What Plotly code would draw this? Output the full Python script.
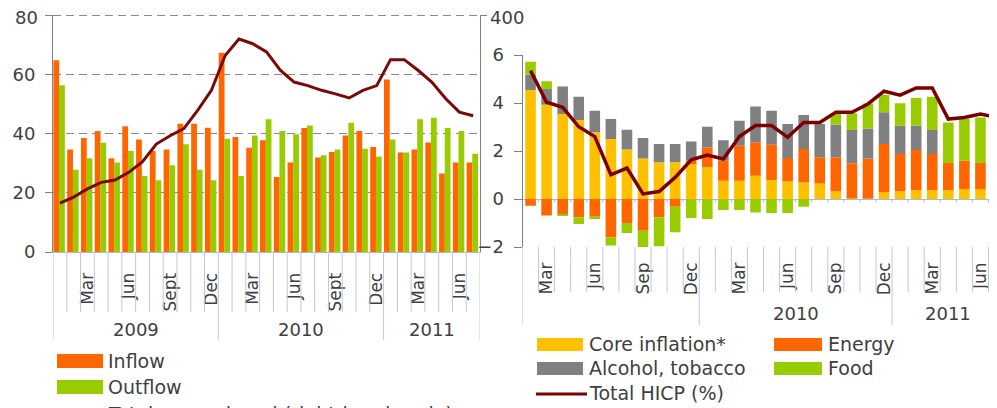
import plotly.graph_objects as go

# ---------------- data ----------------
month_names = ["Jan", "Feb", "Mar", "Apr", "May", "Jun", "Jul", "Aug", "Sep", "Oct", "Nov", "Dec"]
left_months = [f"{m} {y}" for y in (2009, 2010) for m in month_names] + [f"{m} 2011" for m in month_names[:7]]
right_months = left_months[1:]

left_tick_text = ["Mar", "Jun", "Sept", "Dec", "Mar", "Jun", "Sept", "Dec", "Mar", "Jun"]
right_tick_text = ["Mar", "Jun", "Sep", "Dec", "Mar", "Jun", "Sep", "Dec", "Mar", "Jun"]
left_years = ["2009", "2010", "2011"]
right_years = ["2010", "2011"]
left_y_ticks = [0, 20, 40, 60, 80]
left_y2_ticks = [400]
right_y_ticks = [-2, 0, 2, 4, 6]

inflow = [65.0, 34.7, 38.6, 41.0, 31.8, 42.6, 38.1, 34.2, 34.7, 43.5, 43.5, 42.1,
          67.5, 39.0, 35.3, 37.9, 25.4, 30.3, 42.0, 32.0, 33.9, 39.5, 41.0, 35.6,
          58.5, 33.7, 34.7, 37.1, 26.6, 30.3, 30.3]
outflow = [56.5, 27.9, 31.8, 37.0, 30.3, 34.2, 25.8, 24.3, 29.4, 36.5, 27.9, 24.3,
           38.4, 25.8, 39.5, 45.0, 41.0, 39.9, 42.9, 32.8, 34.7, 43.8, 35.0, 32.4,
           38.1, 33.7, 45.0, 45.5, 42.0, 41.0, 33.3]
unemployed = [83, 93, 107, 118, 122, 135, 153, 183, 197, 209, 240, 274,
              333, 361, 353, 339, 308, 288, 282, 274, 268, 261, 274, 282,
              326, 326, 308, 288, 260, 237, 231]

core = [4.54, 3.93, 3.54, 3.29, 2.78, 2.50, 2.06, 1.69, 1.53, 1.53, 1.46,
        1.32, 0.76, 0.76, 0.97, 0.79, 0.74, 0.69, 0.65, 0.32, 0.03, 0.02, 0.28,
        0.32, 0.38, 0.38, 0.38, 0.42, 0.42, 0.38]
energy = [-0.28, -0.69, -0.63, -0.76, -0.74, -1.60, -1.00, -1.32, -0.76, -0.32, 0.15,
          0.83, 0.83, 1.46, 1.39, 1.47, 0.97, 1.39, 1.09, 1.42, 1.46, 1.67, 2.01,
          1.56, 1.66, 1.50, 1.12, 1.18, 1.08, 1.08]
alcohol = [0.64, 0.65, 1.15, 0.97, 0.90, 0.83, 0.83, 0.85, 0.76, 0.76, 0.79,
           0.86, 0.86, 1.04, 1.49, 1.42, 1.42, 1.42, 1.39, 1.36, 1.39, 1.25, 1.32,
           1.18, 1.02, 1.00, 0.0, 0.0, 0.0, 0.0]
food = [0.54, 0.33, -0.07, -0.28, -0.09, -0.34, -0.42, -0.76, -1.21, -1.07, -0.79,
        -0.83, -0.46, -0.46, -0.56, -0.58, -0.58, -0.32, 0.0, 0.44, 0.69, 1.04, 0.72,
        0.93, 1.15, 1.38, 1.69, 1.73, 1.90, 1.87]
hicp = [5.35, 4.03, 3.82, 3.01, 2.60, 1.01, 1.29, 0.21, 0.31, 0.90, 1.63,
        1.83, 1.67, 2.60, 3.06, 3.06, 2.57, 3.19, 3.19, 3.61, 3.61, 3.96, 4.49,
        4.33, 4.63, 4.63, 3.33, 3.40, 3.54, 3.40]

# ---------------- helpers ----------------
OFF = 8                      # page body margin of the exported html
W, H = 997 - OFF, 408 - OFF  # figure size so that it fills the visible window
FONT = "DejaVu Sans"
TXT = "#404040"
ORANGE, GREEN, YELLOW, GREY, DARKRED = "#FF6600", "#99CC00", "#FFC000", "#808080", "#7A0A0A"


def px(x):
    return (x - OFF) / W


def py(y):
    return 1 - (y - OFF) / H


xl = list(range(len(left_months)))
xr = list(range(len(right_months)))
left_tick_idx = [left_months.index(f"{m} {y}") for y in (2009, 2010, 2011) for m in ("Mar", "Jun", "Sep", "Dec")
                 if f"{m} {y}" in left_months]
right_tick_idx = [right_months.index(f"{m} {y}") for y in (2009, 2010, 2011) for m in ("Mar", "Jun", "Sep", "Dec")
                  if f"{m} {y}" in right_months]

fig = go.Figure()

# left panel
fig.add_trace(go.Bar(x=xl, y=inflow, marker=dict(color=ORANGE, line=dict(width=0)),
                     width=0.42, offset=-0.47, xaxis="x", yaxis="y", name="Inflow"))
fig.add_trace(go.Bar(x=xl, y=outflow, marker=dict(color=GREEN, line=dict(width=0)),
                     width=0.42, offset=-0.06, xaxis="x3", yaxis="y", name="Outflow"))
fig.add_trace(go.Scatter(x=xl, y=unemployed, mode="lines", line=dict(color=DARKRED, width=3),
                         xaxis="x3", yaxis="y2", name="Total unemployed"))

# right panel
for name, vals, col in [("Core inflation*", core, YELLOW), ("Energy", energy, ORANGE),
                        ("Alcohol, tobacco", alcohol, GREY), ("Food", food, GREEN)]:
    fig.add_trace(go.Bar(x=xr, y=vals, marker=dict(color=col, line=dict(width=0)),
                         xaxis="x2", yaxis="y3", name=name))
fig.add_trace(go.Scatter(x=xr, y=hicp, mode="lines", line=dict(color="#7B0000", width=3.5),
                         xaxis="x2", yaxis="y3", name="Total HICP (%)"))

tickfont = dict(family=FONT, size=18, color=TXT)

shapes = []
annotations = []

# left separators
nL = len(left_months)
for i in range(nL + 1):
    year_edge = (i % 12 == 0) or i == nL
    shapes.append(dict(type="line", xref="x", yref="paper", x0=i - 0.5, x1=i - 0.5,
                       y0=py(252), y1=py(340 if year_edge else 312),
                       line=dict(color="#c4c6d4", width=1)))
# right separators + small ticks on the zero line
nR = len(right_months)
for i in range(nR + 1):
    year_edge = (i == 0) or ((i + 1) % 12 == 0)
    shapes.append(dict(type="line", xref="x2", yref="paper", x0=i - 0.5, x1=i - 0.5,
                       y0=py(247), y1=py(325 if year_edge else 292),
                       line=dict(color="#c4c6d4", width=1)))
    shapes.append(dict(type="line", xref="x2", yref="y3", x0=i - 0.5, x1=i - 0.5,
                       y0=0, y1=-0.13, layer="below",
                       line=dict(color="#9fb4dc", width=1)))

# year labels
year_centres_left = [5.5, 17.5, 27.0]
for t, c in zip(left_years, year_centres_left):
    annotations.append(dict(text=t, xref="x", yref="paper", x=c, y=py(329), showarrow=False,
                            font=dict(family=FONT, size=18, color=TXT), xanchor="center", yanchor="middle"))
year_centres_right = [16.5, 26.0]
for t, c in zip(right_years, year_centres_right):
    annotations.append(dict(text=t, xref="x2", yref="paper", x=c, y=py(313), showarrow=False,
                            font=dict(family=FONT, size=18, color=TXT), xanchor="center", yanchor="middle"))

# top tick labels of the left panel (drawn as annotations so they are not dropped at the page edge)
annotations.append(dict(text=str(left_y_ticks[-1]), xref="paper", yref="y", x=px(39), y=left_y_ticks[-1],
                        showarrow=False, xanchor="right", yanchor="middle", font=tickfont,
                        borderpad=0, yshift=-2))
annotations.append(dict(text=str(left_y2_ticks[-1]), xref="paper", yref="y2", x=px(489), y=left_y2_ticks[-1],
                        showarrow=False, xanchor="left", yanchor="middle", font=tickfont,
                        borderpad=0, yshift=-2))


def swatch(x0, x1, y0, y1, col):
    shapes.append(dict(type="rect", xref="paper", yref="paper", x0=px(x0), x1=px(x1),
                       y0=py(y1), y1=py(y0), fillcolor=col, line=dict(width=0)))


def lswatch(x0, x1, y, col):
    shapes.append(dict(type="line", xref="paper", yref="paper", x0=px(x0), x1=px(x1),
                       y0=py(y), y1=py(y), line=dict(color=col, width=3)))


def ltext(t, x, y):
    annotations.append(dict(text=t, xref="paper", yref="paper", x=px(x), y=py(y), showarrow=False,
                            xanchor="left", yanchor="middle",
                            font=dict(family=FONT, size=19, color=TXT)))


# left legend
swatch(57, 103, 354, 368, ORANGE)
ltext("Inflow", 106, 361)
swatch(57, 103, 380, 394, GREEN)
ltext("Outflow", 106, 387)
lswatch(57, 103, 414, DARKRED)
ltext("Total unemployed (right-hand scale)", 106, 414)

# right legend
swatch(537, 583, 338, 351, YELLOW)
ltext("Core inflation*", 587, 344)
swatch(774, 822, 338, 351, ORANGE)
ltext("Energy", 826, 344)
swatch(537, 583, 362, 375, GREY)
ltext("Alcohol, tobacco", 587, 368)
swatch(774, 822, 362, 375, GREEN)
ltext("Food", 826, 368)
lswatch(536, 587, 394, "#7B0000")
ltext("Total HICP (%)", 587, 393)

fig.update_layout(
    template="none",
    width=W, height=H, autosize=False,
    margin=dict(l=0, r=0, t=0, b=0, pad=0),
    paper_bgcolor="white", plot_bgcolor="rgba(0,0,0,0)",
    showlegend=False, barmode="relative", bargap=0.34,
    font=dict(family=FONT, color=TXT),
    xaxis=dict(domain=[px(53), px(480)], range=[-0.5, nL - 0.5], anchor="y", automargin=False,
               tickmode="array", tickvals=left_tick_idx, ticktext=left_tick_text, tickangle=-90,
               ticks="", ticklabelstandoff=13, tickfont=dict(family=FONT, size=17, color=TXT),
               showline=True, linecolor="#a9b8dc", linewidth=1, showgrid=False, zeroline=False),
    xaxis3=dict(overlaying="x", range=[-0.5, nL - 0.5], anchor="y", visible=False, automargin=False),
    yaxis=dict(domain=[py(252), py(14.5)], range=[0, 80.5], anchor="x", automargin=False,
               tickmode="array", tickvals=left_y_ticks,
               ticktext=[str(v) for v in left_y_ticks[:-1]] + [""], tickfont=tickfont,
               ticks="outside", ticklen=7, tickcolor="#808080", ticklabelstandoff=6,
               showline=True, linecolor="#808080", linewidth=1,
               showgrid=True, gridcolor="#8a8a8a", gridwidth=1, griddash="8px,5px", zeroline=False),
    yaxis2=dict(overlaying="y", side="right", range=[0, 402.5], anchor="x", automargin=False,
                tickmode="array", tickvals=left_y2_ticks, ticktext=[""], tickfont=tickfont,
                ticks="outside", ticklen=6, tickcolor="#808080",
                showline=True, linecolor="#808080", linewidth=1, showgrid=False, zeroline=False),
    xaxis2=dict(domain=[px(522.5), 1.0], range=[-0.5, 29.03], anchor="y3", automargin=False,
                tickmode="array", tickvals=right_tick_idx, ticktext=right_tick_text, tickangle=-90,
                ticks="", ticklabelstandoff=11, tickfont=dict(family=FONT, size=17, color=TXT),
                showline=False, showgrid=False, zeroline=False),
    yaxis3=dict(domain=[py(247), py(55)], range=[-2, 6], anchor="x2", automargin=False,
                tickmode="array", tickvals=right_y_ticks, tickfont=tickfont,
                ticks="outside", ticklen=8, tickcolor="#808080", ticklabelstandoff=6,
                showline=True, linecolor="#808080", linewidth=1, showgrid=False,
                zeroline=True, zerolinecolor="#a9b8dc", zerolinewidth=1),
    shapes=shapes, annotations=annotations,
)

fig.write_html("out.html")
